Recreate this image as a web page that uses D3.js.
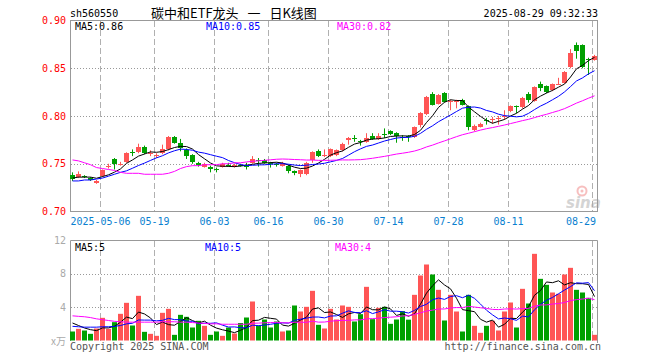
<!DOCTYPE html>
<html><head><meta charset="utf-8">
<script src="https://cdn.jsdelivr.net/npm/d3@7"></script>
<style>body{margin:0;background:#fff}svg{display:block}</style>
</head><body><svg id="c" width="660" height="360"></svg>
<script>
const dates = ["2025-04-24","2025-04-25","2025-04-28","2025-04-29","2025-04-30",
"2025-05-06","2025-05-07","2025-05-08","2025-05-09","2025-05-12","2025-05-13","2025-05-14","2025-05-15","2025-05-16",
"2025-05-19","2025-05-20","2025-05-21","2025-05-22","2025-05-23","2025-05-26","2025-05-27","2025-05-28","2025-05-29","2025-05-30",
"2025-06-03","2025-06-04","2025-06-05","2025-06-06","2025-06-09","2025-06-10","2025-06-11","2025-06-12","2025-06-13",
"2025-06-16","2025-06-17","2025-06-18","2025-06-19","2025-06-20","2025-06-23","2025-06-24","2025-06-25","2025-06-26","2025-06-27",
"2025-06-30","2025-07-01","2025-07-02","2025-07-03","2025-07-04","2025-07-07","2025-07-08","2025-07-09","2025-07-10","2025-07-11",
"2025-07-14","2025-07-15","2025-07-16","2025-07-17","2025-07-18","2025-07-21","2025-07-22","2025-07-23","2025-07-24","2025-07-25",
"2025-07-28","2025-07-29","2025-07-30","2025-07-31","2025-08-01","2025-08-04","2025-08-05","2025-08-06","2025-08-07","2025-08-08",
"2025-08-11","2025-08-12","2025-08-13","2025-08-14","2025-08-15","2025-08-18","2025-08-19","2025-08-20","2025-08-21","2025-08-22",
"2025-08-25","2025-08-26","2025-08-27","2025-08-28","2025-08-29"];

const open = [.738,.736,.737,.735,.730,.737,.747,.755,.749,.752,
.762,.762,.768,.760,.758,.761,.765,.778,.772,.764,
.759,.751,.747,.747,.744,.747,.749,.747,.749,.748,
.751,.754,.754,.751,.750,.748,.748,.742,.739,.739,
.754,.763,.758,.758,.759,.764,.775,.777,.774,.773,
.779,.776,.781,.784,.782,.778,.779,.778,.791,.802,
.823,.813,.824,.815,.815,.817,.810,.785,.789,.796,
.796,.797,.799,.805,.810,.809,.823,.816,.833,.831,
.827,.833,.835,.851,.874,.874,.860,.859];
const high = [.741,.742,.738,.736,.733,.744,.750,.756,.752,.762,
.765,.771,.769,.764,.761,.770,.779,.779,.776,.766,
.760,.752,.751,.748,.746,.751,.751,.750,.750,.751,
.758,.756,.755,.752,.751,.752,.749,.743,.744,.752,
.763,.765,.765,.766,.765,.772,.778,.780,.775,.782,
.782,.782,.787,.785,.783,.780,.780,.789,.804,.821,
.825,.823,.825,.817,.817,.818,.811,.791,.793,.798,
.799,.800,.806,.811,.811,.820,.825,.831,.836,.832,
.834,.840,.847,.870,.877,.875,.861,.864];
const low = [.732,.735,.735,.732,.729,.736,.745,.744,.748,.751,
.758,.761,.760,.758,.756,.760,.764,.771,.763,.755,
.750,.747,.746,.741,.741,.746,.747,.746,.747,.744,
.750,.747,.750,.746,.747,.747,.740,.738,.736,.738,
.751,.757,.757,.757,.758,.763,.770,.773,.769,.772,
.775,.775,.777,.780,.772,.774,.773,.777,.788,.801,
.811,.812,.814,.806,.808,.811,.785,.784,.788,.791,
.792,.791,.796,.804,.803,.808,.814,.815,.826,.824,
.826,.833,.834,.850,.860,.850,.843,.858];
const close = [.734,.739,.736,.733,.732,.743,.748,.750,.750,.761,
.761,.768,.761,.761,.759,.765,.778,.772,.767,.758,
.752,.749,.750,.745,.743,.750,.748,.749,.748,.747,
.755,.753,.751,.750,.749,.751,.742,.740,.743,.751,
.762,.758,.759,.765,.764,.771,.777,.776,.773,.777,
.776,.779,.780,.781,.779,.777,.778,.788,.803,.820,
.812,.822,.815,.816,.816,.812,.788,.790,.792,.795,
.797,.798,.800,.810,.809,.819,.817,.830,.829,.825,
.833,.834,.846,.866,.868,.851,.859,.863];
// volume, in 10k (万)
const volume = [1.08,1.4,1.2,0.8,1.44,2.72,1.4,2.2,3.2,4.52,
1.8,5.36,1.04,0.8,0.56,3.32,3.8,0.68,3.08,2.84,
1.56,2.36,1.76,0.68,1.08,0.56,1.56,0.84,2.1,2.76,
4.68,1.8,2.52,1.56,2.28,1.08,1.2,4.2,3.48,4.04,
5.96,1.88,1.44,3.8,2.52,4.2,4.04,2.28,3.16,6.44,
2.56,3.92,4.04,2.0,2.52,3.52,2.5,5.48,7.8,9.12,
7.92,6.08,2.4,5.48,3.48,1.08,5.48,1.76,0.92,1.76,
2.36,1.2,3.48,4.56,1.56,6.2,4.44,10.4,7.4,6.68,
5.76,5.6,7.92,8.72,6.08,5.76,5.12,0.68];

// moving-average values for the first days (window not yet full)
const ma5Head = [.735,.736,.736,.736];
const ma10Head = [.732,.732,.733,.733,.734,.735,.737,.739,.741];
const ma30Head = [.754,.753,.751,.749,.746,.745,.744,.743,.741,.740,.740,.740,.739,.739,.739,.739,.740,.742,.745,.747,.748,.748,.749,.749,.749,.750,.750,.751,.751];
const volMa5Head = [2.1,1.8,1.5,1.3];
const volMa10Head = [1.7,1.65,1.6,1.6,1.6,1.65,1.65,1.7,1.8];
const volMa30Head = [2.96,2.9,2.85,2.75,2.6,2.5,2.4,2.3,2.25,2.2,2.2,2.2,2.2,2.2,2.2,2.25,2.25,2.25,2.2,2.2,2.15,2.1,2.05,2.0,2.0,1.95,1.95,1.95,1.95];

const priceTicks = [0.90,0.85,0.80,0.75,0.70];
const volTicks = [12,8,4];
const tickDates = ["2025-05-06","2025-05-19","2025-06-03","2025-06-16","2025-06-30","2025-07-14","2025-07-28","2025-08-11","2025-08-29"];
const tickLabels = ["2025-05-06","05-19","06-03","06-16","06-30","07-14","07-28","08-11","08-29"];

const symbol = "sh560550";
const title = "碳中和ETF龙头 一 日K线图";
const stamp = "2025-08-29 09:32:33";

const RED = "#ff5555", GREEN = "#00a000";
const MONO = "'DejaVu Sans Mono', monospace";

function movAvg(arr, n, head){
  return arr.map((v,i)=> i < head.length ? head[i] : d3.mean(arr.slice(i-n+1,i+1)));
}
const ma5 = movAvg(close,5,ma5Head), ma10 = movAvg(close,10,ma10Head), ma30 = movAvg(close,30,ma30Head);
const vma5 = movAvg(volume,5,volMa5Head), vma10 = movAvg(volume,10,volMa10Head), vma30 = movAvg(volume,30,volMa30Head);

const svg = d3.select("#c");
const L = 70, R = 598;
const x = d3.scaleBand().domain(d3.range(dates.length)).range([L, R]);
const y = d3.scaleLinear().domain([0.70,0.90]).range([211.5,20.5]);
const yv = d3.scaleLinear().domain([0,12]).range([340.5,240.5]);
const up = i => close[i] >= open[i];

// header
svg.append("text").attr("x",70).attr("y",17).attr("font-family",MONO).attr("font-size",10).text(symbol);
svg.append("text").attr("x",151).attr("y",17.5).attr("font-family","'Noto Sans CJK SC', sans-serif").attr("font-size",13)
  .style("word-spacing","6px").text(title);
svg.append("text").attr("x",598).attr("y",17).attr("text-anchor","end").attr("font-family",MONO).attr("font-size",10).text(stamp);

// grid
const gridG = svg.append("g");
function vgrid(top,bottom){
  tickDates.forEach(d=>{
    const xi = x(dates.indexOf(d))+0.5;
    gridG.append("line").attr("x1",xi).attr("x2",xi).attr("y1",top).attr("y2",bottom)
      .attr("stroke","#b0b0b0").attr("stroke-dasharray","6,3");
  });
}
vgrid(21,211);
vgrid(241,341);
priceTicks.slice(1,-1).forEach(p=>{
  const yy = Math.round(y(p))+0.5;
  gridG.append("line").attr("x1",L+1).attr("x2",R-1).attr("y1",yy).attr("y2",yy)
    .attr("stroke","#999").attr("stroke-dasharray","1,2");
});
volTicks.slice(1).forEach(v=>{
  const yy = Math.round(yv(v))+0.5;
  gridG.append("line").attr("x1",L+1).attr("x2",R-1).attr("y1",yy).attr("y2",yy)
    .attr("stroke","#999").attr("stroke-dasharray","1,2");
});

// watermark
const wm = svg.append("g").attr("opacity",0.5);
wm.append("circle").attr("cx",582).attr("cy",191).attr("r",4.5).attr("fill","none").attr("stroke","#f08080").attr("stroke-width",2);
wm.append("circle").attr("cx",582).attr("cy",191).attr("r",1.5).attr("fill","#f08080");
wm.append("text").attr("x",566).attr("y",208).attr("font-family","'DejaVu Sans', sans-serif").attr("font-weight","bold").attr("font-style","italic").attr("font-size",15).attr("fill","#aaa").text("sina");

// borders
svg.append("rect").attr("x",L+0.5).attr("y",20.5).attr("width",R-L-1).attr("height",191).attr("fill","none").attr("stroke","#999");
svg.append("path").attr("d",`M${L+0.5},341V240.5H${R-0.5}V343`).attr("fill","none").attr("stroke","#999");

// candles
const cg = svg.append("g");
dates.forEach((d,i)=>{
  const col = up(i) ? RED : GREEN;
  const xb = x(i);
  cg.append("line").attr("x1",xb+2.5).attr("x2",xb+2.5).attr("y1",y(high[i])).attr("y2",y(low[i])).attr("stroke",col);
  const y1 = y(Math.max(open[i],close[i])), y2 = y(Math.min(open[i],close[i]));
  cg.append("rect").attr("x",xb).attr("width",5).attr("y",Math.round(y1)).attr("height",Math.max(1,Math.round(y2)-Math.round(y1))).attr("fill",col);
});
// volume bars
dates.forEach((d,i)=>{
  svg.append("rect").attr("x",x(i)).attr("width",5).attr("y",yv(volume[i])).attr("height",yv(0)-yv(volume[i])).attr("fill",up(i)?RED:GREEN);
});

// MA lines
const ln = (ys, arr) => d3.line().x((v,i)=>x(i)+2.5).y(v=>ys(v))(arr);
[[ma5,"#000"],[ma10,"#0000ff"],[ma30,"#ff00ff"]].forEach(([a,c])=>svg.append("path").attr("d",ln(y,a)).attr("fill","none").attr("stroke",c).attr("stroke-width",1));
[[vma5,"#000"],[vma10,"#0000ff"],[vma30,"#ff00ff"]].forEach(([a,c])=>svg.append("path").attr("d",ln(yv,a)).attr("fill","none").attr("stroke",c).attr("stroke-width",1));

// MA labels
const n = dates.length-1, f2 = d3.format(".2f");
[["MA5:"+f2(ma5[n]),75,"#000"],["MA10:"+f2(ma10[n]),206,"#0000ff"],["MA30:"+f2(ma30[n]),337,"#ff00ff"]].forEach(([t,xx,c])=>
  svg.append("text").attr("x",xx).attr("y",30).attr("font-family",MONO).attr("font-size",10).attr("fill",c).text(t));
[["MA5:"+Math.floor(vma5[n]),75,"#000"],["MA10:"+Math.floor(vma10[n]),205,"#0000ff"],["MA30:"+Math.floor(vma30[n]),335,"#ff00ff"]].forEach(([t,xx,c])=>
  svg.append("text").attr("x",xx).attr("y",250.5).attr("font-family",MONO).attr("font-size",10).attr("fill",c).text(t));

// y labels
priceTicks.forEach(p=>svg.append("text").attr("x",66).attr("y",y(p)+3.5).attr("text-anchor","end")
  .attr("font-family",MONO).attr("font-size",10).attr("fill","#ff0000").text(p.toFixed(2)));
volTicks.forEach(v=>svg.append("text").attr("x",66).attr("y",yv(v)+3.5).attr("text-anchor","end")
  .attr("font-family",MONO).attr("font-size",10).attr("fill","#aaa").text(v));
svg.append("text").attr("x",66).attr("y",345).attr("text-anchor","end").attr("font-family","'Noto Sans CJK SC', sans-serif").attr("font-size",10).attr("fill","#aaa").text("x万");

// x labels
tickDates.forEach((d,k)=>{
  const xi = x(dates.indexOf(d))+0.5;
  const last = k === tickDates.length-1;
  svg.append("text").attr("x", last ? 596 : xi).attr("y",225).attr("text-anchor", last ? "end" : "middle")
    .attr("font-family",MONO).attr("font-size",10).attr("fill","#0a7fd0").text(tickLabels[k]);
});

// footer
svg.append("text").attr("x",70).attr("y",350).attr("font-family",MONO).attr("font-size",10).attr("fill","#555").text("Copyright 2025 SINA.COM");
svg.append("text").attr("x",601).attr("y",350).attr("text-anchor","end").attr("font-family",MONO).attr("font-size",10).attr("fill","#555").text("http://finance.sina.com.cn");
</script></body></html>
